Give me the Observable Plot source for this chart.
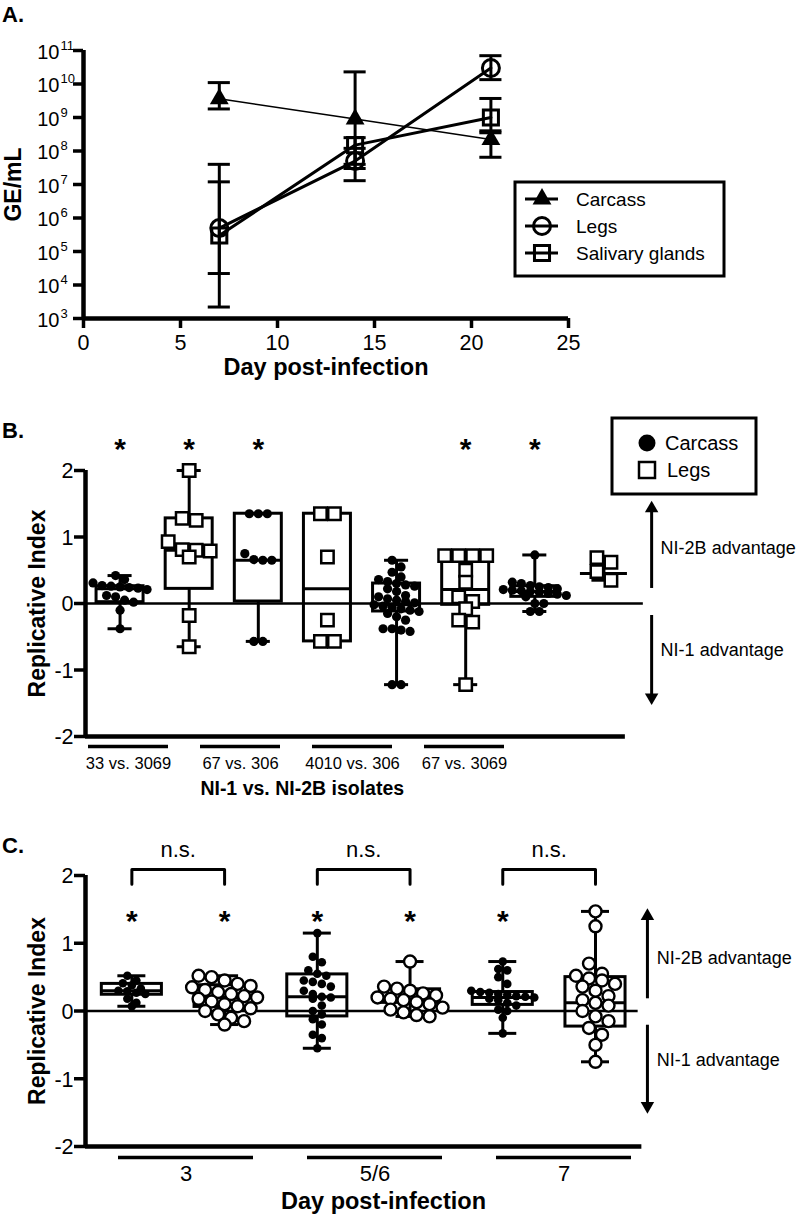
<!DOCTYPE html>
<html><head><meta charset="utf-8">
<script src="https://cdn.jsdelivr.net/npm/d3@7"></script>
<script src="https://cdn.jsdelivr.net/npm/@observablehq/plot@0.6"></script>
<style>
body{margin:0;background:#fff;}
#wrap{position:relative;width:798px;height:1215px;overflow:hidden;background:#fff;}
#wrap svg{position:absolute;left:0;}
</style></head><body><div id="wrap"></div>
<script>
// ---------------- Panel A data ----------------
const daysA = [7, 14, 21];
const seriesA = ["Carcass", "Legs", "Salivary glands"];
const carcassMean = [3.6e9, 9.0e8, 2.2e8];
const carcassLow = [1.8e9, 4.0e7, 6.5e7];
const carcassHigh = [1.1e10, 2.3e10, 3.5e8];
const legsMean = [5.0e5, 5.0e7, 3.0e10];
const legsLow = [2.2e4, 1.3e7, 1.35e10];
const legsHigh = [1.2e7, 1.2e8, 7.0e10];
const salivaryMean = [3.0e5, 1.5e8, 1.0e9];
const salivaryLow = [2.2e3, 3.0e7, 4.0e8];
const salivaryHigh = [4.0e7, 2.5e8, 3.7e9];
const xTicksA = [0, 5, 10, 15, 20, 25];
const yTicksA = [1e3, 1e4, 1e5, 1e6, 1e7, 1e8, 1e9, 1e10, 1e11];

// ---------------- Panel B data ----------------
const groupsB = ["33 vs. 3069", "67 vs. 306", "4010 vs. 306", "67 vs. 3069"];
const tissuesB = ["Carcass", "Legs"];
const ptsB_33v3069_carcass = [0.42, 0.36, 0.31, 0.27, 0.26, 0.25, 0.24, 0.23, 0.21, 0.12, 0.10, 0.05, 0.02, -0.10, -0.38];
const ptsB_33v3069_legs = [2.00, 1.28, 1.25, 0.93, 0.81, 0.80, 0.79, 0.70, -0.18, -0.65];
const ptsB_67v306_carcass = [1.35, 1.35, 1.35, 0.75, 0.66, 0.65, 0.65, -0.57, -0.57];
const ptsB_67v306_legs = [1.35, 1.35, 0.70, -0.25, -0.57, -0.57];
const ptsB_4010v306_carcass = [0.65, 0.55, 0.47, 0.40, 0.36, 0.33, 0.30, 0.28, 0.26, 0.22, 0.18, 0.12, 0.10, 0.07, 0.05, 0.03, 0.01, -0.02, -0.04, -0.06, -0.08, -0.10, -0.12, -0.15, -0.20, -0.25, -0.38, -0.38, -0.40, -0.42, -1.22, -1.22];
const ptsB_4010v306_legs = [0.72, 0.72, 0.72, 0.72, 0.50, 0.32, 0.10, 0.03, -0.08, -0.25, -0.28, -1.22];
const ptsB_67v3069_carcass = [0.73, 0.32, 0.30, 0.27, 0.25, 0.24, 0.22, 0.21, 0.20, 0.19, 0.18, 0.17, 0.15, 0.14, 0.12, 0.10, 0.00, 0.00, -0.12, -0.12];
const ptsB_67v3069_legs = [0.69, 0.62, 0.48, 0.35];
const boxMinB = [-0.38, -0.65, -0.57, -0.57, -1.22, -1.22, -0.12, 0.35];
const boxQ1B  = [0.02, 0.22, 0.03, -0.57, -0.12, -0.02, 0.10, 0.45];
const boxMedB = [0.22, 0.80, 0.65, 0.22, -0.02, 0.21, 0.18, 0.45];
const boxQ3B  = [0.26, 1.28, 1.35, 1.35, 0.30, 0.72, 0.26, 0.45];
const boxMaxB = [0.42, 2.00, 1.35, 1.35, 0.65, 0.72, 0.73, 0.69];
const sigB = [1, 2, 3, 6, 7];

// ---------------- Panel C data ----------------
const daysC = ["3", "5/6", "7"];
const ptsC_3_carcass = [0.52, 0.45, 0.41, 0.38, 0.33, 0.30, 0.29, 0.27, 0.25, 0.18, 0.12, 0.07];
const ptsC_3_legs = [0.52, 0.50, 0.45, 0.40, 0.37, 0.35, 0.31, 0.28, 0.25, 0.22, 0.20, 0.18, 0.14, 0.10, 0.07, 0.04, 0.00, -0.05, -0.10, -0.15, -0.20];
const ptsC_56_carcass = [1.15, 0.80, 0.72, 0.60, 0.55, 0.52, 0.45, 0.43, 0.40, 0.36, 0.30, 0.25, 0.21, 0.20, 0.18, 0.08, 0.00, -0.05, -0.12, -0.20, -0.35, -0.40, -0.55];
const ptsC_56_legs = [0.73, 0.36, 0.33, 0.30, 0.26, 0.23, 0.20, 0.18, 0.16, 0.13, 0.10, 0.05, 0.02, -0.02, -0.06, -0.08];
const ptsC_7_carcass = [0.73, 0.62, 0.60, 0.50, 0.40, 0.30, 0.28, 0.27, 0.25, 0.24, 0.22, 0.21, 0.20, 0.18, 0.16, 0.12, 0.08, 0.02, 0.00, -0.10, -0.33];
const ptsC_7_legs = [1.47, 1.25, 0.70, 0.55, 0.52, 0.48, 0.45, 0.40, 0.36, 0.30, 0.22, 0.16, 0.12, 0.08, 0.00, -0.08, -0.15, -0.25, -0.35, -0.50, -0.75];
const boxMinC = [0.07, -0.20, -0.55, -0.08, -0.33, -0.75];
const boxQ1C  = [0.24, 0.06, -0.08, 0.12, 0.09, -0.23];
const boxMedC = [0.30, 0.20, 0.21, 0.17, 0.20, 0.12];
const boxQ3C  = [0.40, 0.38, 0.54, 0.32, 0.28, 0.50];
const boxMaxC = [0.52, 0.52, 1.15, 0.73, 0.73, 1.47];
const sigC = [1, 2, 3, 4, 5];
const pairsC = [[1, 2], [3, 4], [5, 6]];
const yTicksRI = [-2, -1, 0, 1, 2];

// ---------------- helpers ----------------
const W = 798;
const FONT = '"Liberation Sans", Arial, Helvetica, sans-serif';
const baseStyle = {fontFamily: FONT, fontSize: "21px", color: "black", background: "none", overflow: "visible"};
const wrap = document.getElementById("wrap");
function place(svg, top) { svg.style.top = top + "px"; svg.style.left = "0px"; wrap.appendChild(svg); }

// horizontal scatter (rows centred on the box), computed in pixel space
function rowOffsets(values, pxY, diam, pxX) {
  const order = values.map((v, i) => i).sort((a, b) => values[b] - values[a]);
  const off = new Array(values.length).fill(0);
  let row = [], rowTop = null;
  const flush = () => { row.forEach((idx, j) => off[idx] = (j - (row.length - 1) / 2) * diam / pxX); row = []; };
  for (const i of order) {
    const y = values[i] * pxY;
    if (row.length && rowTop - y > diam * 0.8) flush();
    if (!row.length) rowTop = y;
    row.push(i);
  }
  flush();
  return off;
}
function buildPoints(groups, pxX, pxY, diams) {
  const rows = [];
  groups.forEach((vals, gi) => {
    const tissue = gi % 2 === 0 ? "Carcass" : "Legs";
    const off = rowOffsets(vals, pxY, diams[tissue], pxX);
    vals.forEach((v, k) => rows.push({g: gi + 1, tissue, v, x: gi + 1 + off[k]}));
  });
  return rows;
}
function buildBoxes(mins, q1s, meds, q3s, maxs) {
  return mins.map((m, i) => ({g: i + 1, min: m, q1: q1s[i], med: meds[i], q3: q3s[i], max: maxs[i]}));
}
function boxMarks(boxes, half, cap) {
  return [
    Plot.ruleX(boxes, {x: "g", y1: "min", y2: "q1", strokeWidth: 3}),
    Plot.ruleX(boxes, {x: "g", y1: "q3", y2: "max", strokeWidth: 3}),
    Plot.ruleY(boxes, {y: "min", x1: d => d.g - cap, x2: d => d.g + cap, strokeWidth: 3}),
    Plot.ruleY(boxes, {y: "max", x1: d => d.g - cap, x2: d => d.g + cap, strokeWidth: 3}),
    Plot.rect(boxes, {x1: d => d.g - half, x2: d => d.g + half, y1: "q1", y2: "q3", fill: "none", stroke: "black", strokeWidth: 3}),
    Plot.ruleY(boxes, {y: "med", x1: d => d.g - half, x2: d => d.g + half, strokeWidth: 3})
  ];
}
function riAxis(x0) {
  return [
    Plot.axisY(yTicksRI, {tickSize: 11, strokeWidth: 3.5, tickFormat: () => "", label: null}),
    Plot.text(yTicksRI, {x: x0, y: d => d, text: d => String(d), textAnchor: "end", dx: -12, dy: 1, fontSize: 21.5})
  ];
}

// ---------------- Panel A ----------------
const meansA = [carcassMean, legsMean, salivaryMean];
const lowsA = [carcassLow, legsLow, salivaryLow];
const highsA = [carcassHigh, legsHigh, salivaryHigh];
const rowsA = [];
seriesA.forEach((s, si) => daysA.forEach((d, i) => rowsA.push({series: s, day: d, mean: meansA[si][i], lo: lowsA[si][i], hi: highsA[si][i]})));
const ofA = s => rowsA.filter(r => r.series === s);
const capA = 0.57;
const plotA = Plot.plot({
  width: W, height: 380, marginLeft: 83, marginRight: 230, marginTop: 50, marginBottom: 62,
  style: baseStyle,
  x: {domain: [0, 25], label: null},
  y: {type: "log", domain: [1e3, 1e11], label: null},
  marks: [
    Plot.axisX(xTicksA, {tickSize: 10, strokeWidth: 3.5, tickFormat: () => "", label: null}),
    Plot.text(xTicksA, {x: d => d, y: 1e3, text: d => String(d), lineAnchor: "top", dy: 16, fontSize: 21.5}),
    Plot.axisY(yTicksA, {tickSize: 10, strokeWidth: 3.5, tickFormat: () => "", label: null}),
    Plot.text(yTicksA, {x: 0, y: d => d, text: () => "10", textAnchor: "end", dx: -24, dy: 2, fontSize: 20}),
    Plot.text(yTicksA, {x: 0, y: d => d, text: d => String(Math.round(Math.log10(d))), textAnchor: "start", dx: -23, dy: -5, fontSize: 13}),
    Plot.ruleX([0], {y1: 1e3, y2: 1e11, strokeWidth: 4.5}),
    Plot.ruleY([1e3], {x1: 0, x2: 25, strokeWidth: 4.5}),
    Plot.text(["Day post-infection"], {frameAnchor: "bottom", dy: 49, lineAnchor: "middle", text: d => d, fontWeight: "bold", fontSize: 23.5}),
    Plot.text(["GE/mL"], {frameAnchor: "left", dx: -70, rotate: -90, textAnchor: "middle", text: d => d, fontWeight: "bold", fontSize: 23}),
    Plot.line(ofA("Carcass"), {x: "day", y: "mean", strokeWidth: 1.5}),
    Plot.line(ofA("Legs"), {x: "day", y: "mean", strokeWidth: 3}),
    Plot.line(ofA("Salivary glands"), {x: "day", y: "mean", strokeWidth: 3}),
    Plot.ruleX(rowsA, {x: "day", y1: "lo", y2: "hi", strokeWidth: 3}),
    Plot.ruleY(rowsA, {y: "hi", x1: d => d.day - capA, x2: d => d.day + capA, strokeWidth: 3}),
    Plot.ruleY(rowsA, {y: "lo", x1: d => d.day - capA, x2: d => d.day + capA, strokeWidth: 3}),
    Plot.dot(ofA("Carcass"), {x: "day", y: "mean", symbol: "triangle", r: 7, fill: "black"}),
    Plot.dot(ofA("Legs"), {x: "day", y: "mean", symbol: "circle", r: 8.5, fill: "none", stroke: "black", strokeWidth: 3}),
    Plot.dot(ofA("Salivary glands"), {x: "day", y: "mean", symbol: "square", r: 8.5, fill: "none", stroke: "black", strokeWidth: 3})
  ]
});
place(plotA, 0);

// ---------------- Panel B ----------------
const pxXB = 69.125, pxYB = 66.5;
const groupsPtsB = [ptsB_33v3069_carcass, ptsB_33v3069_legs, ptsB_67v306_carcass, ptsB_67v306_legs,
  ptsB_4010v306_carcass, ptsB_4010v306_legs, ptsB_67v3069_carcass, ptsB_67v3069_legs];
const pointsB = buildPoints(groupsPtsB, pxXB, pxYB, {Carcass: 9, Legs: 14});
const boxesB = buildBoxes(boxMinB, boxQ1B, boxMedB, boxQ3B, boxMaxB);
const plotB = Plot.plot({
  width: W, height: 420, marginLeft: 85, marginRight: 160, marginTop: 90, marginBottom: 64,
  style: baseStyle,
  x: {domain: [0.5, 8.5], axis: null, label: null},
  y: {domain: [-2, 2], label: null},
  marks: [
    ...riAxis(0.5),
    Plot.ruleX([0.5], {y1: -2, y2: 2, strokeWidth: 4.5}),
    Plot.ruleY([-2], {x1: 0.5, x2: 8.31, strokeWidth: 4.5}),
    Plot.ruleY([0], {x1: 0.5, x2: 8.57, strokeWidth: 2.5}),
    Plot.text(["Replicative Index"], {frameAnchor: "left", dx: -48, rotate: -90, textAnchor: "middle", text: d => d, fontWeight: "bold", fontSize: 23}),
    ...boxMarks(boxesB, 0.34, 0.174),
    Plot.dot(pointsB.filter(d => d.tissue === "Carcass"), {x: "x", y: "v", r: 4.6, fill: "black"}),
    Plot.dot(pointsB.filter(d => d.tissue === "Legs"), {x: "x", y: "v", symbol: "square", r: 7, fill: "white", stroke: "black", strokeWidth: 2.5}),
    Plot.text(sigB, {x: d => d, y: 2.42, text: () => "*", fontSize: 30, fontWeight: "bold", dy: 7}),
    Plot.ruleX([8.69], {y1: 0.226, y2: 1.43, strokeWidth: 3}),
    Plot.dot([8.69], {x: d => d, y: 1.43, symbol: "triangle", r: 5, fill: "black"}),
    Plot.ruleX([8.69], {y1: -0.18, y2: -1.41, strokeWidth: 3}),
    Plot.dot([8.69], {x: d => d, y: -1.41, symbol: "triangle", r: 5, fill: "black", rotate: 180}),
    Plot.text(["NI-2B advantage"], {x: 8.82, y: 0.83, text: d => d, textAnchor: "start", fontSize: 18}),
    Plot.text(["NI-1 advantage"], {x: 8.82, y: -0.71, text: d => d, textAnchor: "start", fontSize: 18})
  ]
});
place(plotB, 380);

const labelsB = Plot.plot({
  width: W, height: 64, marginLeft: 87, marginRight: W - 504.5, marginTop: 0, marginBottom: 0,
  style: baseStyle,
  x: {type: "band", domain: groupsB, paddingInner: 0.29, paddingOuter: 0, axis: null},
  y: {domain: [0, 64], range: [0, 64], axis: null},
  marks: [
    Plot.tickY(groupsB, {x: d => d, y: 10, strokeWidth: 3.5}),
    Plot.text(groupsB, {x: d => d, y: 27, text: d => d, fontSize: 16.5}),
    Plot.text(["NI-1 vs. NI-2B isolates"], {frameAnchor: "top", dy: 52, dx: 6, lineAnchor: "middle", text: d => d, fontWeight: "bold", fontSize: 19.5})
  ]
});
place(labelsB, 736);

// ---------------- Panel C ----------------
const pxXC = 92.73, pxYC = 67.75;
const groupsPtsC = [ptsC_3_carcass, ptsC_3_legs, ptsC_56_carcass, ptsC_56_legs, ptsC_7_carcass, ptsC_7_legs];
const pointsC = buildPoints(groupsPtsC, pxXC, pxYC, {Carcass: 9, Legs: 13});
const boxesC = buildBoxes(boxMinC, boxQ1C, boxMedC, boxQ3C, boxMaxC);
const bracketRows = pairsC.flatMap(([a, b], k) => [
  {k, x: a, y: 1.87}, {k, x: a, y: 2.09}, {k, x: b, y: 2.09}, {k, x: b, y: 1.87}]);
const plotC = Plot.plot({
  width: W, height: 415, marginLeft: 85, marginRight: 152, marginTop: 75, marginBottom: 69,
  style: baseStyle,
  x: {domain: [0.5, 6.55], axis: null, label: null},
  y: {domain: [-2, 2], label: null},
  marks: [
    ...riAxis(0.5),
    Plot.ruleX([0.5], {y1: -2, y2: 2, strokeWidth: 4.5}),
    Plot.ruleY([-2], {x1: 0.5, x2: 6.5, strokeWidth: 4.5}),
    Plot.ruleY([0], {x1: 0.5, x2: 6.46, strokeWidth: 2.5}),
    Plot.text(["Replicative Index"], {frameAnchor: "left", dx: -48, rotate: -90, textAnchor: "middle", text: d => d, fontWeight: "bold", fontSize: 23}),
    ...boxMarks(boxesC, 0.324, 0.151),
    Plot.dot(pointsC.filter(d => d.tissue === "Carcass"), {x: "x", y: "v", r: 4.3, fill: "black"}),
    Plot.dot(pointsC.filter(d => d.tissue === "Legs"), {x: "x", y: "v", r: 6, fill: "white", stroke: "black", strokeWidth: 2.4}),
    Plot.text(sigC, {x: d => d, y: 1.42, text: () => "*", fontSize: 30, fontWeight: "bold", dy: 7}),
    Plot.line(bracketRows, {x: "x", y: "y", z: "k", strokeWidth: 3}),
    Plot.text(pairsC, {x: d => (d[0] + d[1]) / 2, y: 2.37, text: () => "n.s.", fontSize: 22}),
    Plot.ruleX([6.56], {y1: 0.18, y2: 1.40, strokeWidth: 3}),
    Plot.dot([6.56], {x: d => d, y: 1.40, symbol: "triangle", r: 5, fill: "black"}),
    Plot.ruleX([6.56], {y1: -0.21, y2: -1.40, strokeWidth: 3}),
    Plot.dot([6.56], {x: d => d, y: -1.40, symbol: "triangle", r: 5, fill: "black", rotate: 180}),
    Plot.text(["NI-2B advantage"], {x: 6.66, y: 0.775, text: d => d, textAnchor: "start", fontSize: 18}),
    Plot.text(["NI-1 advantage"], {x: 6.66, y: -0.73, text: d => d, textAnchor: "start", fontSize: 18})
  ]
});
place(plotC, 800);

const labelsC = Plot.plot({
  width: W, height: 69, marginLeft: 117, marginRight: W - 631, marginTop: 0, marginBottom: 0,
  style: baseStyle,
  x: {type: "band", domain: daysC, paddingInner: 0.288, paddingOuter: 0, axis: null},
  y: {domain: [0, 69], range: [0, 69], axis: null},
  marks: [
    Plot.tickY(daysC, {x: d => d, y: 11, strokeWidth: 3.5}),
    Plot.text(daysC, {x: d => d, y: 27, text: d => d, fontSize: 22}),
    Plot.text(["Day post-infection"], {frameAnchor: "top", dy: 55, dx: 9, lineAnchor: "middle", text: d => d, fontWeight: "bold", fontSize: 23.5})
  ]
});
place(labelsC, 1146);

// ---------------- Overlay: panel letters and legends ----------------
const ov = d3.create("svg").attr("width", W).attr("height", 1215)
  .style("top", "0px").style("font-family", FONT);
[["A.", 22], ["B.", 438], ["C.", 853]].forEach(([t, y]) =>
  ov.append("text").attr("x", 2).attr("y", y).attr("font-size", 22).attr("font-weight", "bold").text(t));
// Legend A
const lgA = ov.append("g");
lgA.append("rect").attr("x", 515).attr("y", 182).attr("width", 209).attr("height", 94).attr("fill", "white").attr("stroke", "black").attr("stroke-width", 3);
const legA = [{t: seriesA[0], y: 199, sym: d3.symbolTriangle, fill: "black"},
              {t: seriesA[1], y: 226, sym: d3.symbolCircle, fill: "none"},
              {t: seriesA[2], y: 253, sym: d3.symbolSquare, fill: "none"}];
legA.forEach(e => {
  lgA.append("line").attr("x1", 525).attr("x2", 558).attr("y1", e.y).attr("y2", e.y).attr("stroke", "black").attr("stroke-width", 3);
  lgA.append("path").attr("transform", `translate(542,${e.y})`).attr("d", d3.symbol(e.sym, e.sym === d3.symbolTriangle ? 154 : 227)())
    .attr("fill", e.fill).attr("stroke", e.fill === "none" ? "black" : "none").attr("stroke-width", 3);
  lgA.append("text").attr("x", 576).attr("y", e.y + 7).attr("font-size", 19).text(e.t);
});
// Legend B
const lgB = ov.append("g");
lgB.append("rect").attr("x", 612).attr("y", 418).attr("width", 144).attr("height", 76).attr("fill", "white").attr("stroke", "black").attr("stroke-width", 3);
lgB.append("circle").attr("cx", 647).attr("cy", 443).attr("r", 8.5).attr("fill", "black");
lgB.append("rect").attr("x", 639).attr("y", 462).attr("width", 16).attr("height", 16).attr("fill", "white").attr("stroke", "black").attr("stroke-width", 2.5);
lgB.append("text").attr("x", 665).attr("y", 450).attr("font-size", 20).text(tissuesB[0]);
lgB.append("text").attr("x", 667).attr("y", 477).attr("font-size", 20).text(tissuesB[1]);
wrap.appendChild(ov.node());
</script>
</body></html>
